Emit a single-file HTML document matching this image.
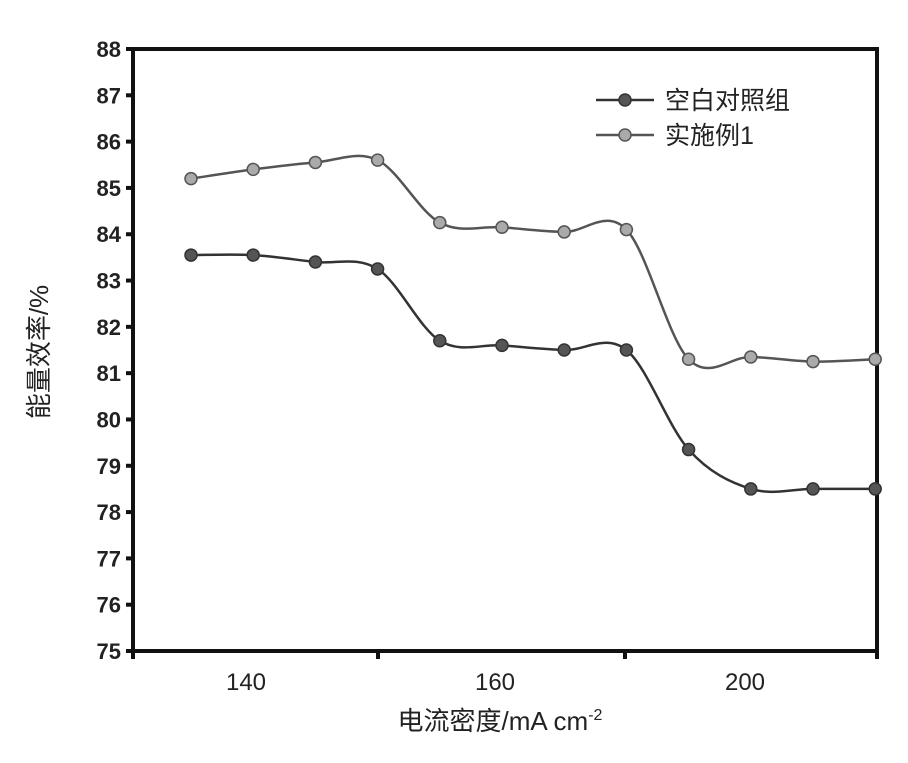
<!DOCTYPE html>
<html><head><meta charset="utf-8"><style>
body{margin:0;background:#fff}
svg text{font-family:"Liberation Sans","Noto Sans CJK SC",sans-serif;fill:#222}
</style></head><body>
<svg id="c" width="908" height="758">
<g id="plot"></g>
</svg>
<script>
const categories=[135,140,145,150,155,160,165,170,175,180,185,190];
const blankValues=[83.55,83.55,83.4,83.25,81.7,81.6,81.5,81.5,79.35,78.5,78.5,78.5];
const exampleValues=[85.2,85.4,85.55,85.6,84.25,84.15,84.05,84.1,81.3,81.35,81.25,81.3];
const yTicks=[75,76,77,78,79,80,81,82,83,84,85,86,87,88];
const xTickLabels=["140","160","200"];
const seriesNames=["空白对照组","实施例1"];
const NS="http://www.w3.org/2000/svg";
const svg=document.getElementById('c');
const L=133,R=877,T=49,B=651;
const x=i=>191+i*62.2;
const y=v=>B-(v-75)*(B-T)/13;
function el(t,a,p){const e=document.createElementNS(NS,t);for(const k in a)e.setAttribute(k,a[k]);(p||svg).appendChild(e);return e;}
const frame=el('rect',{x:L,y:T,width:R-L,height:B-T,fill:'none',stroke:'#111','stroke-width':4});


yTicks.forEach(v=>{
 const t=el('line',{x1:L-7,x2:L,y1:y(v),y2:y(v),stroke:'#111','stroke-width':4});
 
 
 const tx=el('text',{x:L-12,y:y(v)+8,'text-anchor':'end','font-size':22,'font-weight':'bold'});
 tx.textContent=v;
 
 
});
[L,378,625,R].forEach(px=>{
 const t=el('line',{x1:px,x2:px,y1:B,y2:B+8,stroke:'#111','stroke-width':4});
 
 
});
[246,495,745].forEach((px,i)=>{
 const tx=el('text',{x:px,y:B+39,'text-anchor':'middle','font-size':24});
 tx.textContent=xTickLabels[i];
 
 
});
const xt=el('text',{x:500,y:730,'text-anchor':'middle','font-size':26});
xt.textContent='电流密度/mA cm';
const sup=el('tspan',{dy:-10,'font-size':16},xt);sup.textContent='-2';


const yt=el('text',{x:0,y:0,'text-anchor':'middle','font-size':26,transform:'translate(48,352) rotate(-90)'});
yt.textContent='能量效率/%';


function path(vals){
 const p=vals.map((v,i)=>[x(i),y(v)]);
 let d='M'+p[0][0]+','+p[0][1];
 for(let i=0;i<p.length-1;i++){
  const p0=p[i-1]||p[i],p1=p[i],p2=p[i+1],p3=p[i+2]||p[i+1];
  d+=` C${p1[0]+(p2[0]-p0[0])/6},${p1[1]+(p2[1]-p0[1])/6} ${p2[0]-(p3[0]-p1[0])/6},${p2[1]-(p3[1]-p1[1])/6} ${p2[0]},${p2[1]}`;
 }
 return d;
}
[[blankValues,'#333','#555','blank'],[exampleValues,'#555','#aaa','example']].forEach(([vals,stroke,fill,nm])=>{
 const ln=el('path',{d:path(vals),fill:'none',stroke:stroke,'stroke-width':2.5});
 
 
 vals.forEach((v,i)=>{
  const c=el('circle',{cx:x(i),cy:y(v),r:6,fill:fill,stroke:stroke,'stroke-width':1.5});
  
  
 });
});
[[100,'#333','#555'],[135,'#555','#aaa']].forEach(([py,s,f],i)=>{
 const g=el('g',{});
 
 
 el('line',{x1:596,x2:654,y1:py,y2:py,stroke:s,'stroke-width':2.5},g);
 el('circle',{cx:625,cy:py,r:6,fill:f,stroke:s,'stroke-width':1.5},g);
 const t=el('text',{x:665,y:py+9,'font-size':25},g);t.textContent=seriesNames[i];
});
</script>
</body></html>
